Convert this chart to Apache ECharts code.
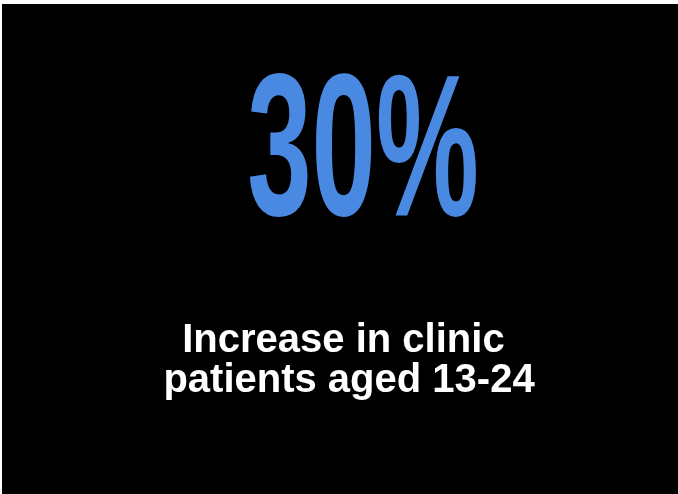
<!DOCTYPE html>
<html>
<head>
<meta charset="utf-8">
<script src="https://cdn.jsdelivr.net/npm/echarts@6/dist/echarts.min.js"></script>
<style>
html,body{margin:0;padding:0;background:#fff;}
#chart{width:678px;height:494px;}
</style>
</head>
<body>
<div id="chart"></div>
<script>
const statValue = [30];
const statUnit = ['%'];
const captionLines = ['Increase in clinic ', 'patients aged 13-24'];

const chart = echarts.init(document.getElementById('chart'));
chart.setOption({
  backgroundColor: '#ffffff',
  graphic: [
    { type: 'rect', left: 2, top: 4, shape: { width: 680, height: 494 }, style: { fill: '#000000' } },
    {
      type: 'text', x: 363, y: 159, scaleX: 0.57, scaleY: 1,
      style: {
        text: statValue[0] + statUnit[0],
        x: 0, y: 0,
        fill: '#4a89e2',
        font: 'bold 203px "Liberation Sans", Arial, sans-serif',
        align: 'center', verticalAlign: 'middle'
      }
    },
    {
      type: 'text', x: 349, y: 361,
      style: {
        text: captionLines.join('\n'),
        x: 0, y: 0,
        fill: '#ffffff',
        font: 'bold 40px "Liberation Sans", Arial, sans-serif',
        lineHeight: 40,
        align: 'center', verticalAlign: 'middle'
      }
    }
  ]
});
</script>
</body>
</html>
